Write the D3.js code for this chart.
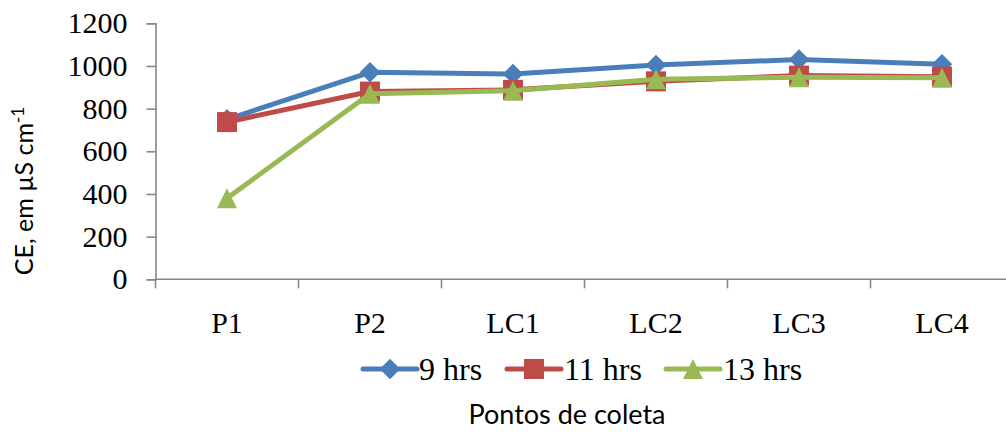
<!DOCTYPE html>
<html>
<head>
<meta charset="utf-8">
<script src="https://cdn.jsdelivr.net/npm/d3@7"></script>
</head>
<body style="margin:0">
<svg id="chart" width="1006" height="432" font-family="Liberation Serif"></svg>
<script>
// Sampling points along the collection route
const categories = ["P1", "P2", "LC1", "LC2", "LC3", "LC4"];

// Electrical conductivity (µS cm-1) at each sampling time
const seriesNames = ["9 hrs", "11 hrs", "13 hrs"];
const values9h  = [750, 970, 962, 1005, 1030, 1008];
const values11h = [737, 880, 888, 928, 955, 950];
const values13h = [380, 870, 884, 938, 947, 945];

const yTicks = [0, 200, 400, 600, 800, 1000, 1200];
const colors = ["#4A7EBB", "#BE4B48", "#98B954"];

// Marker shapes: rotated square, square, upward triangle
const diamond = { draw(ctx, size) { const r = Math.sqrt(size) / 2; ctx.moveTo(0, -r); ctx.lineTo(r, 0); ctx.lineTo(0, r); ctx.lineTo(-r, 0); ctx.closePath(); } };
const square = { draw(ctx, size) { const h = Math.sqrt(size) / 2; ctx.rect(-h, -h, 2 * h, 2 * h); } };
const triangle = { draw(ctx, size) { const h = Math.sqrt(size) / 2; ctx.moveTo(0, -h); ctx.lineTo(h, h); ctx.lineTo(-h, h); ctx.closePath(); } };
const symbols = [diamond, square, triangle];
const markerSize = [420, 400, 400];

const series = [values9h, values11h, values13h].map((vals, i) => ({
  name: seriesNames[i],
  color: colors[i],
  symbol: symbols[i],
  values: vals.map((v, j) => ({ cat: categories[j], v }))
}));

const svg = d3.select("#chart");

const x0 = 155.5, x1 = 1013.5, yTop = 23.3, yBot = 279.3;

const xBand = d3.scaleBand().domain(categories).range([x0, x1]);
const x = d3.scalePoint().domain(categories).range([x0, x1]).padding(0.5);
const y = d3.scaleLinear().domain([0, 1200]).range([yBot, yTop]);

const axisColor = "#868686";

// Y axis
const yAxis = svg.append("g")
  .attr("transform", `translate(${x0},0)`)
  .call(d3.axisLeft(y).tickValues(yTicks).tickSize(9).tickPadding(19).tickFormat(d3.format("d")));
yAxis.attr("font-family", "Liberation Serif").attr("font-size", 30);
yAxis.select(".domain").attr("stroke", axisColor).attr("stroke-width", 1.6);
yAxis.selectAll(".tick line").attr("stroke", axisColor).attr("stroke-width", 1.6);
yAxis.selectAll(".tick text").attr("fill", "#000");

// X axis: tick marks at category boundaries, labels at centers
const xAxis = svg.append("g")
  .attr("transform", `translate(0,${yBot})`);
xAxis.append("line")
  .attr("x1", x0).attr("x2", 1006)
  .attr("stroke", axisColor).attr("stroke-width", 1.6);
const boundaries = categories.map(c => xBand(c));
xAxis.selectAll("line.tk").data(boundaries).enter().append("line")
  .attr("class", "tk")
  .attr("x1", d => d).attr("x2", d => d)
  .attr("y1", 0).attr("y2", 9)
  .attr("stroke", axisColor).attr("stroke-width", 1.6);
xAxis.selectAll("text").data(categories).enter().append("text")
  .attr("x", d => x(d))
  .attr("y", 54)
  .attr("text-anchor", "middle")
  .attr("font-family", "Liberation Serif")
  .attr("font-size", 30)
  .text(d => d);

// Series lines and markers
const line = d3.line().x(d => x(d.cat)).y(d => y(d.v));

series.forEach((s, i) => {
  const g = svg.append("g");
  g.append("path")
    .datum(s.values)
    .attr("d", line)
    .attr("fill", "none")
    .attr("stroke", s.color)
    .attr("stroke-width", 5)
    .attr("stroke-linejoin", "round");
  g.selectAll("path.mk").data(s.values).enter().append("path")
    .attr("class", "mk")
    .attr("transform", d => `translate(${x(d.cat)},${y(d.v)})`)
    .attr("d", d3.symbol().type(s.symbol).size(markerSize[i]))
    .attr("fill", s.color);
});

// Legend
const legendItems = [
  { lx: 363, tx: 419 },
  { lx: 507, tx: 564 },
  { lx: 666, tx: 723 }
];
const ly = 369;
series.forEach((s, i) => {
  const it = legendItems[i];
  const g = svg.append("g");
  g.append("line")
    .attr("x1", it.lx).attr("x2", it.lx + 54)
    .attr("y1", ly).attr("y2", ly)
    .attr("stroke", s.color).attr("stroke-width", 5).attr("stroke-linecap", "round");
  g.append("path")
    .attr("transform", `translate(${it.lx + 27},${ly})`)
    .attr("d", d3.symbol().type(s.symbol).size(markerSize[i]))
    .attr("fill", s.color);
  g.append("text")
    .attr("x", it.tx).attr("y", ly + 11)
    .attr("font-family", "Liberation Serif")
    .attr("font-size", 32)
    .text(s.name);
});

// Axis titles
svg.append("text")
  .attr("x", 567).attr("y", 424)
  .attr("text-anchor", "middle")
  .attr("font-family", "Lato")
  .attr("font-size", 27)
  .text("Pontos de coleta");

const yt = svg.append("text")
  .attr("transform", `translate(33,191) rotate(-90)`)
  .attr("text-anchor", "middle")
  .attr("font-family", "Lato")
  .attr("font-size", 25);
yt.append("tspan").text("CE, em µS cm");
yt.append("tspan").attr("dy", -9).attr("font-size", 17).text("-1");
</script>
</body>
</html>
